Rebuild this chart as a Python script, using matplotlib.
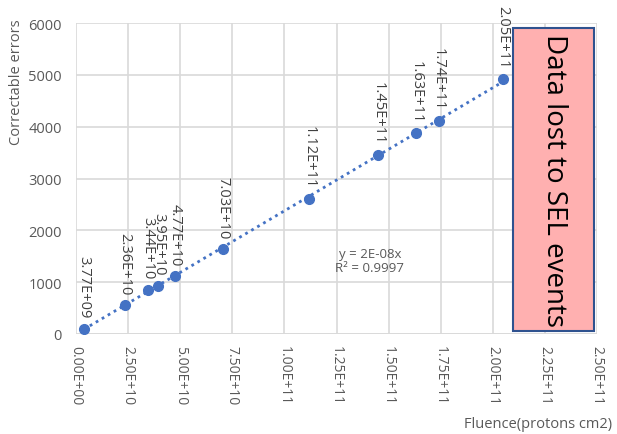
import numpy as np
import matplotlib
matplotlib.use("Agg")
import matplotlib.pyplot as plt
from matplotlib.patches import Rectangle

fluence = [3.77e9, 2.36e10, 3.44e10, 3.95e10, 4.77e10, 7.03e10, 1.12e11, 1.45e11, 1.63e11, 1.74e11, 2.05e11]
errors = [100, 550, 855, 935, 1110, 1640, 2605, 3455, 3870, 4110, 4925]
point_labels = ["3.77E+09", "2.36E+10", "3.44E+10", "3.95E+10", "4.77E+10", "7.03E+10",
                "1.12E+11", "1.45E+11", "1.63E+11", "1.74E+11", "2.05E+11"]
x_ticks = [0, 2.5e10, 5e10, 7.5e10, 1e11, 1.25e11, 1.5e11, 1.75e11, 2e11, 2.25e11, 2.5e11]
x_tick_labels = ["0.00E+00", "2.50E+10", "5.00E+10", "7.50E+10", "1.00E+11", "1.25E+11",
                 "1.50E+11", "1.75E+11", "2.00E+11", "2.25E+11", "2.50E+11"]
y_ticks = [0, 1000, 2000, 3000, 4000, 5000, 6000]
equation_text = "y = 2E-08x"
r2_text = "R² = 0.9997"
box_x = [2.097e11, 2.486e11]
box_y = [58, 5907]
box_text = "Data lost to SEL events"

plt.rcParams['font.family'] = ['Open Sans', 'DejaVu Sans']
gray = "#595959"
blue = "#4472C4"

fig = plt.figure(figsize=(6.17, 4.35), dpi=100)
ax = fig.add_axes([76/617, 100/435, 521/617, 311/435])

ax.set_xlim(0, 2.5e11)
ax.set_ylim(0, 6000)
ax.set_xticks(x_ticks)
ax.set_xticklabels(x_tick_labels, rotation=-90, color=gray, fontsize=10)
ax.set_yticks(y_ticks)
ax.set_yticklabels([str(v) for v in y_ticks], color=gray, fontsize=10.5)
ax.tick_params(axis="x", length=0, pad=8)
ax.tick_params(axis="y", length=0, pad=10)
ax.grid(True, color="#d9d9d9", linewidth=1.2)
ax.set_axisbelow(True)
for s in ax.spines.values():
    s.set_visible(False)
ax.axhline(0, color="#d9d9d9", linewidth=1.2, zorder=1)

# trendline through origin
fx = np.array(fluence)
fy = np.array(errors)
slope = np.sum(fx * fy) / np.sum(fx * fx)
tx = np.array([fx.min(), fx.max()])
ax.plot(tx, slope * tx, linestyle=(0, (1, 1.5)), color=blue, linewidth=2, zorder=2)

ax.plot(fluence, errors, 'o', color=blue, markersize=7, zorder=3)

for x, y, lab in zip(fluence, errors, point_labels):
    ax.annotate(lab, (x, y), xytext=(0, 8), textcoords="offset points",
                rotation=-90, ha="center", va="bottom", fontsize=10.5, color="#404040")

ax.text(1.41e11, 1545, equation_text, ha="center", va="center", fontsize=9.5, color=gray)
ax.text(1.41e11, 1275, r2_text, ha="center", va="center", fontsize=9.5, color=gray)

rect = Rectangle((box_x[0], box_y[0]), box_x[1] - box_x[0], box_y[1] - box_y[0],
                 facecolor="#FFB0B0", edgecolor="#2F528F", linewidth=1.5, zorder=4)
ax.add_patch(rect)
ax.text((box_x[0] + box_x[1]) / 2, (box_y[0] + box_y[1]) / 2, box_text,
        rotation=-90, ha="center", va="center", fontsize=20, color="black", zorder=5)

fig.text(17/617, 1 - 82/435, "Correctable errors", rotation=90, ha="center", va="center",
         fontsize=10.5, color=gray)
fig.text(612/617, 1 - 425/435, "Fluence(protons cm2)", ha="right", va="center",
         fontsize=10.5, color=gray)

fig.savefig("out.png", dpi=100)
